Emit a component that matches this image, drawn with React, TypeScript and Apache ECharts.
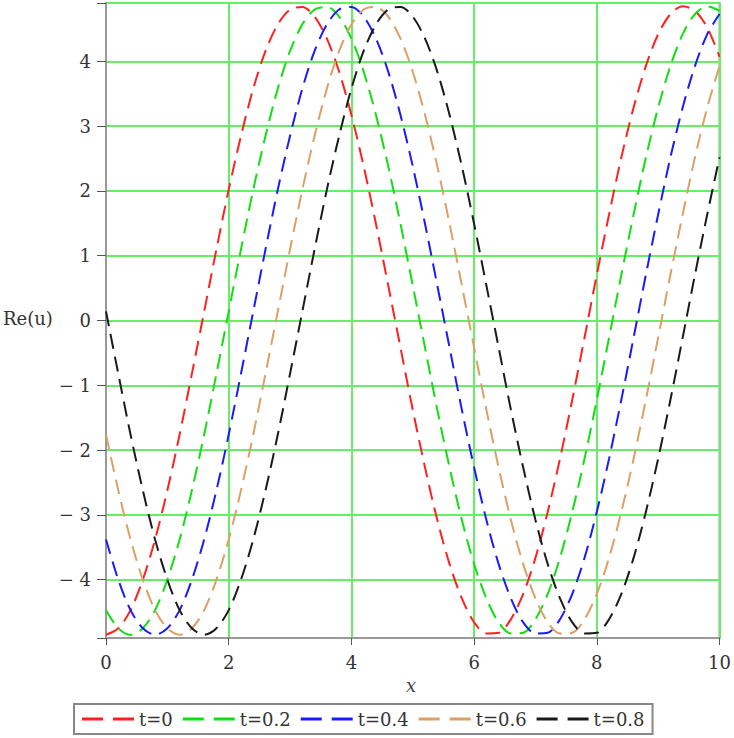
import React, { useEffect, useRef } from "react";
import * as echarts from "echarts";

const xs = [0, 0.2, 0.4, 0.6, 0.8, 1, 1.2, 1.4, 1.6, 1.8, 2, 2.2, 2.4, 2.6, 2.8, 3, 3.2, 3.4, 3.6, 3.8, 4, 4.2, 4.4, 4.6, 4.8, 5, 5.2, 5.4, 5.6, 5.8, 6, 6.2, 6.4, 6.6, 6.8, 7, 7.2, 7.4, 7.6, 7.8, 8, 8.2, 8.4, 8.6, 8.8, 9, 9.2, 9.4, 9.6, 9.8, 10];

const t0 = [-4.85, -4.75, -4.47, -4.00, -3.38, -2.62, -1.76, -0.82, 0.14, 1.10, 2.02, 2.85, 3.58, 4.16, 4.57, 4.80, 4.84, 4.69, 4.35, 3.84, 3.17, 2.38, 1.49, 0.54, -0.42, -1.38, -2.27, -3.08, -3.76, -4.29, -4.66, -4.83, -4.82, -4.61, -4.22, -3.66, -2.95, -2.13, -1.22, -0.26, 0.71, 1.64, 2.52, 3.29, 3.93, 4.42, 4.73, 4.85, 4.78, 4.52, 4.07];
const t02 = [-4.47, -4.75, -4.85, -4.75, -4.47, -4.00, -3.38, -2.62, -1.76, -0.82, 0.14, 1.10, 2.02, 2.85, 3.58, 4.16, 4.57, 4.80, 4.84, 4.69, 4.35, 3.84, 3.17, 2.38, 1.49, 0.54, -0.42, -1.38, -2.27, -3.08, -3.76, -4.29, -4.66, -4.83, -4.82, -4.61, -4.22, -3.66, -2.95, -2.13, -1.22, -0.26, 0.71, 1.64, 2.52, 3.29, 3.93, 4.42, 4.73, 4.85, 4.78];
const t04 = [-3.38, -4.00, -4.47, -4.75, -4.85, -4.75, -4.47, -4.00, -3.38, -2.62, -1.76, -0.82, 0.14, 1.10, 2.02, 2.85, 3.58, 4.16, 4.57, 4.80, 4.84, 4.69, 4.35, 3.84, 3.17, 2.38, 1.49, 0.54, -0.42, -1.38, -2.27, -3.08, -3.76, -4.29, -4.66, -4.83, -4.82, -4.61, -4.22, -3.66, -2.95, -2.13, -1.22, -0.26, 0.71, 1.64, 2.52, 3.29, 3.93, 4.42, 4.73];
const t06 = [-1.76, -2.62, -3.38, -4.00, -4.47, -4.75, -4.85, -4.75, -4.47, -4.00, -3.38, -2.62, -1.76, -0.82, 0.14, 1.10, 2.02, 2.85, 3.58, 4.16, 4.57, 4.80, 4.84, 4.69, 4.35, 3.84, 3.17, 2.38, 1.49, 0.54, -0.42, -1.38, -2.27, -3.08, -3.76, -4.29, -4.66, -4.83, -4.82, -4.61, -4.22, -3.66, -2.95, -2.13, -1.22, -0.26, 0.71, 1.64, 2.52, 3.29, 3.93];
const t08 = [0.14, -0.82, -1.76, -2.62, -3.38, -4.00, -4.47, -4.75, -4.85, -4.75, -4.47, -4.00, -3.38, -2.62, -1.76, -0.82, 0.14, 1.10, 2.02, 2.85, 3.58, 4.16, 4.57, 4.80, 4.84, 4.69, 4.35, 3.84, 3.17, 2.38, 1.49, 0.54, -0.42, -1.38, -2.27, -3.08, -3.76, -4.29, -4.66, -4.83, -4.82, -4.61, -4.22, -3.66, -2.95, -2.13, -1.22, -0.26, 0.71, 1.64, 2.52];

const seriesNames = ["t=0", "t=0.2", "t=0.4", "t=0.6", "t=0.8"];
const seriesValues = [t0, t02, t04, t06, t08];
const seriesColors = ["#ff2020", "#10e010", "#1a1aff", "#dca066", "#1a1a1a"];

const FONT = "DejaVu Serif";

export default function App() {
  const ref = useRef<HTMLDivElement>(null);
  useEffect(() => {
    if (!ref.current) return;
    const chart = echarts.init(ref.current, undefined, { renderer: "svg" });
    const fmtMinus = (v: number) => {
      if (Math.abs(v - Math.round(v)) > 1e-6) return "";
      const r = Math.round(v);
      return r < 0 ? "\u2212 " + -r : String(r);
    };
    chart.setOption({
      animation: false,
      backgroundColor: "#ffffff",
      textStyle: { fontFamily: FONT },
      grid: {
        left: 106,
        right: 12,
        top: 3,
        bottom: 100,
        show: true,
        borderColor: "#999999",
        borderWidth: 2,
        backgroundColor: "transparent",
      },
      xAxis: {
        type: "value",
        min: 0,
        max: 10,
        interval: 2,
        axisLine: { show: true, onZero: false, lineStyle: { color: "#999999", width: 2 } },
        axisTick: { show: true, length: 7, lineStyle: { color: "#555555", width: 1 } },
        axisLabel: {
          margin: 15,
          fontFamily: FONT,
          fontSize: 18,
          color: "#333333",
          formatter: (v: number) => String(v),
        },
        splitLine: { show: true, lineStyle: { color: "#66ee66", width: 2 } },
      },
      yAxis: {
        type: "value",
        min: -4.9,
        max: 4.9,
        splitNumber: 10,
        axisLine: { show: true, onZero: false, lineStyle: { color: "#999999", width: 2 } },
        axisTick: { show: true, length: 9, lineStyle: { color: "#555555", width: 1 } },
        axisLabel: {
          margin: 15,
          fontFamily: FONT,
          fontSize: 18,
          color: "#333333",
          formatter: fmtMinus,
        },
        splitLine: { show: true, lineStyle: { color: "#66ee66", width: 2 } },
      },
      legend: {
        left: 74,
        top: 704,
        orient: "horizontal",
        icon: "path://M0,0h21v3h-21zM31,0h21v3h-21z",
        itemWidth: 52,
        itemHeight: 3,
        itemGap: 10,
        padding: [6, 8],
        borderColor: "#888888",
        borderWidth: 2,
        backgroundColor: "#ffffff",
        textStyle: { fontFamily: FONT, fontSize: 18, color: "#333333" },
        data: seriesNames,
      },
      graphic: [
        {
          type: "text",
          left: 3,
          top: 309,
          style: { text: "Re(u)", fontFamily: FONT, fontSize: 18, fill: "#333333" },
        },
        {
          type: "text",
          left: 406,
          top: 676,
          style: { text: "x", fontFamily: FONT, fontSize: 18, fontStyle: "italic", fill: "#444444" },
        },
      ],
      series: seriesNames.map((name, i) => ({
        name,
        type: "line",
        smooth: 0.3,
        symbol: "none",
        data: xs.map((x, j) => [x, seriesValues[i][j]]),
        lineStyle: { color: seriesColors[i], width: 2, type: [15, 8] },
        itemStyle: { color: seriesColors[i] },
        clip: true,
      })),
    });
    return () => chart.dispose();
  }, []);
  return (
    <div
      ref={ref}
      style={{ position: "fixed", left: 0, top: 0, width: 734, height: 738 }}
    />
  );
}
